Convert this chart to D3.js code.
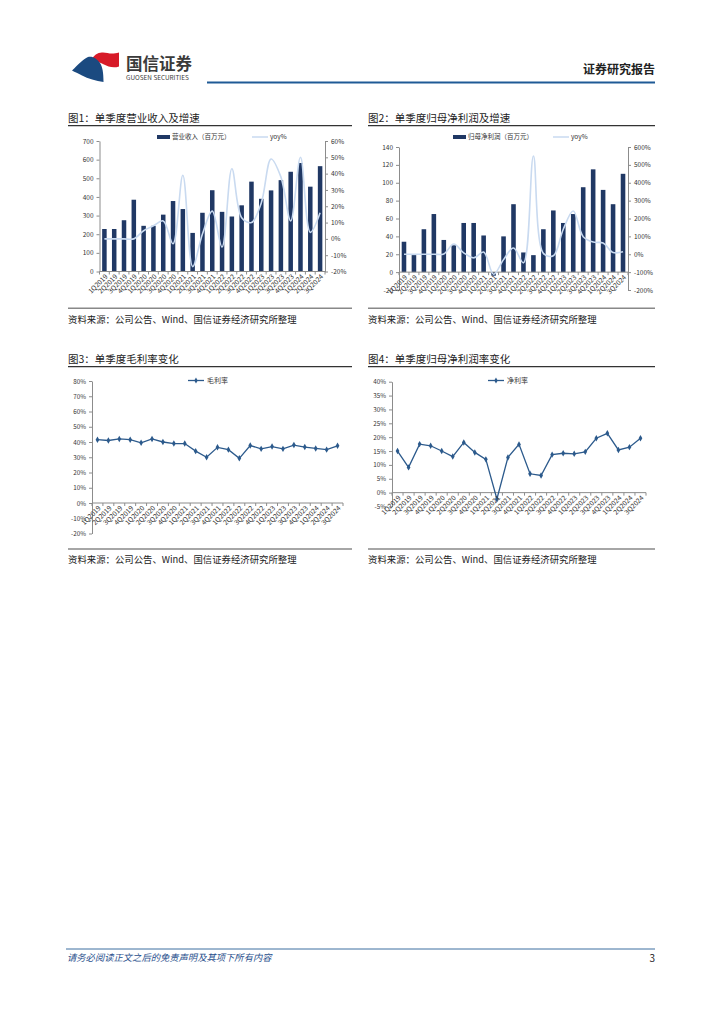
<!DOCTYPE html>
<html><head><meta charset="utf-8">
<script src="https://cdn.jsdelivr.net/npm/d3@7"></script>
<style>
body{margin:0;background:#fff}
svg{display:block}
text{font-family:"Noto Sans CJK SC","Liberation Sans",sans-serif}
</style>
</head><body>
<svg id="c" width="724" height="1024"></svg>
<script>
// ---------------- data ----------------
const quarters = ["1Q2019","2Q2019","3Q2019","4Q2019","1Q2020","2Q2020","3Q2020","4Q2020","1Q2021","2Q2021","3Q2021","4Q2021","1Q2022","2Q2022","3Q2022","4Q2022","1Q2023","2Q2023","3Q2023","4Q2023","1Q2024","2Q2024","3Q2024"];
const revenue = [228,228,275,385,245,245,305,378,335,207,315,436,320,295,355,482,390,435,490,535,582,455,565];
const revenueYoy = [0,0,0,0,5,8,11,-3,39,-17,3,17,-5,43,13,10,22,49,38,11,50,4,16];
const profit = [34,19,48,65,36,30,55,55,41,-4,40,76,22,19,48,69,55,65,95,115,92,76,110];
const profitYoy = [0,0,0,0,2,57,8,-20,12,-112,-30,35,-48,550,5,-8,140,242,98,68,63,10,14];
const grossMargin = [41.5,41,42,41.5,39.5,42,40,39,39,34,30,36.5,35,29.3,37.7,35.5,37,35.5,38,36.7,35.8,35,37.5];
const netMargin = [15,9.1,17.5,16.9,15,13,18.1,14.5,12,-2.3,12.7,17.4,6.8,6.2,13.7,14.2,14,14.7,19.6,21.4,15.4,16.4,19.6];

const revTicks = [0,100,200,300,400,500,600,700];
const revYoyTicks = [-20,-10,0,10,20,30,40,50,60];
const profitTicks = [-20,0,20,40,60,80,100,120,140];
const profitYoyTicks = [-200,-100,0,100,200,300,400,500,600];
const grossTicks = [-20,-10,0,10,20,30,40,50,60,70,80];
const netTicks = [-5,0,5,10,15,20,25,30,35,40];

const titles = ["图1：单季度营业收入及增速","图2：单季度归母净利润及增速","图3：单季度毛利率变化","图4：单季度归母净利润率变化"];
const sourceText = "资料来源：公司公告、Wind、国信证券经济研究所整理";

// ---------------- style ----------------
const NAVY = "#203864";
const LIGHT = "#c9daf0";
const LINEC = "#2c5a8c";
const AX = "#8c8c8c";
const TXT = "#333";

const svg = d3.select("#c");
svg.append("rect").attr("width",724).attr("height",1024).attr("fill","#fff");

// ---------------- header ----------------
const hdr = svg.append("g");
hdr.append("path").attr("d","M91,60 C94,55 98,52 103,52.5 C108,53 112,54.5 119,52.5 L119,66.5 C113,68.5 108,66.5 104,64.5 C100,62.5 95,61 91,60 Z").attr("fill","#d71a28");
hdr.append("path").attr("d","M72,70.5 C78,65 83,59 88,57 C93,56 97,59 100,63 C102.5,67 103.5,72 103.5,82 C96,81 88,78.5 82,75.5 C78,73.5 75,72 72,70.5 Z").attr("fill","#1b4a80");
hdr.append("text").attr("x",126).attr("y",70).attr("font-size",16.5).attr("font-weight","bold").attr("fill","#3a3a3a").text("国信证券");
hdr.append("text").attr("x",126).attr("y",80).attr("font-size",6.4).attr("fill","#3a3a3a").attr("font-family","Liberation Sans").text("GUOSEN SECURITIES");
hdr.append("text").attr("x",655).attr("y",74).attr("text-anchor","end").attr("font-size",12).attr("font-weight","bold").attr("fill","#222").text("证券研究报告");
hdr.append("line").attr("x1",207).attr("x2",655).attr("y1",82.5).attr("y2",82.5).attr("stroke","#1f5a96").attr("stroke-width",2);

// ---------------- footer ----------------
svg.append("line").attr("x1",66).attr("x2",655).attr("y1",949).attr("y2",949).attr("stroke","#3d6fa0").attr("stroke-width",1);
svg.append("text").attr("x",67).attr("y",961).attr("font-size",9.3).attr("font-style","italic").attr("fill","#1f4e8c").text("请务必阅读正文之后的免责声明及其项下所有内容");
svg.append("text").attr("x",655).attr("y",962).attr("text-anchor","end").attr("font-size",10).attr("fill","#222").text("3");

// ---------------- frames ----------------
function frame(x0, x1, yTitle, yUnder, title, ySrcLine, ySrcText) {
  svg.append("text").attr("x",x0).attr("y",yTitle).attr("font-size",10.5).attr("fill","#222").text(title);
  svg.append("line").attr("x1",x0).attr("x2",x1).attr("y1",yUnder).attr("y2",yUnder).attr("stroke","#333").attr("stroke-width",1.3);
  svg.append("line").attr("x1",x0).attr("x2",x1).attr("y1",ySrcLine).attr("y2",ySrcLine).attr("stroke","#888").attr("stroke-width",1.5);
  svg.append("text").attr("x",x0).attr("y",ySrcText).attr("font-size",9.4).attr("fill","#222").text(sourceText);
}
frame(68,352,121.5,125.7,titles[0],308.3,322.5);
frame(368,655,121.5,125.7,titles[1],308.3,322.5);
frame(68,352,362.5,366.7,titles[2],549,563);
frame(368,655,362.5,366.7,titles[3],549,563);

// ---------------- helpers ----------------
function styleAxis(g, fs) {
  g.select(".domain").attr("stroke",AX);
  g.selectAll(".tick line").attr("stroke",AX);
  g.selectAll(".tick text").attr("fill",TXT).attr("font-size",fs).attr("font-family","Liberation Sans");
}
function xLabels(x, y0, fs) {
  const g = svg.append("g");
  g.selectAll("text").data(quarters).join("text")
    .attr("transform", d => `translate(${x(d)+x.bandwidth()/2+2},${y0+4}) rotate(-45)`)
    .attr("text-anchor","end").attr("dy","0.35em")
    .attr("font-size",fs).attr("fill",TXT).attr("font-family","Liberation Sans")
    .text(d => d);
}
function xAxisLine(x, y0) {
  const r = x.range();
  svg.append("line").attr("x1",r[0]).attr("x2",r[1]).attr("y1",y0).attr("y2",y0).attr("stroke",AX);
  const edges = quarters.map(q => x(q)).concat([r[1]]);
  svg.append("g").selectAll("line").data(edges).join("line")
    .attr("x1",d=>d).attr("x2",d=>d).attr("y1",y0).attr("y2",y0+3).attr("stroke",AX);
}
function barLegend(xs, y, label, lx, label2) {
  svg.append("rect").attr("x",xs).attr("y",y-2).attr("width",13).attr("height",4).attr("fill",NAVY);
  svg.append("text").attr("x",xs+15).attr("y",y+2.3).attr("font-size",6.5).attr("fill",TXT).text(label);
  svg.append("line").attr("x1",lx).attr("x2",lx+16).attr("y1",y).attr("y2",y).attr("stroke",LIGHT).attr("stroke-width",1.5);
  svg.append("text").attr("x",lx+18).attr("y",y+2.3).attr("font-size",6.5).attr("fill",TXT).text(label2);
}
function lineLegend(xs, y, label) {
  svg.append("line").attr("x1",xs).attr("x2",xs+16).attr("y1",y).attr("y2",y).attr("stroke",LINEC).attr("stroke-width",1.3);
  svg.append("path").attr("d",d3.symbol(d3.symbolDiamond,10)()).attr("transform",`translate(${xs+8},${y})`).attr("fill",LINEC);
  svg.append("text").attr("x",xs+19).attr("y",y+2.5).attr("font-size",7).attr("fill",TXT).text(label);
}

// ---------------- bar + yoy combo ----------------
function combo(opts) {
  const {xr, yr, ldom, rdom, lticks, rticks, vals, yoy, lfmt} = opts;
  const x = d3.scaleBand().domain(quarters).range(xr);
  const yl = d3.scaleLinear().domain(ldom).range(yr);
  const yrS = d3.scaleLinear().domain(rdom).range(yr);
  const bw = x.bandwidth()*0.46;
  const cx = q => x(q) + x.bandwidth()/2;
  svg.append("g").selectAll("rect").data(vals).join("rect")
    .attr("x",(d,i)=>cx(quarters[i])-bw/2)
    .attr("y",d=>Math.min(yl(d),yl(0)))
    .attr("width",bw)
    .attr("height",d=>Math.abs(yl(d)-yl(0)))
    .attr("fill",NAVY);
  xAxisLine(x, yl(0));
  const gl = svg.append("g").attr("transform",`translate(${xr[0]},0)`)
    .call(d3.axisLeft(yl).tickValues(lticks).tickSize(3).tickSizeOuter(0).tickPadding(3).tickFormat(lfmt||(d=>d)));
  styleAxis(gl, 6.5);
  const gr = svg.append("g").attr("transform",`translate(${xr[1]},0)`)
    .call(d3.axisRight(yrS).tickValues(rticks).tickSize(3).tickSizeOuter(0).tickPadding(3).tickFormat(d=>d+"%"));
  styleAxis(gr, 6.5);
  const line = d3.line().x((d,i)=>cx(quarters[i])).y(d=>yrS(d)).curve(d3.curveCatmullRom.alpha(0.5));
  svg.append("path").datum(yoy).attr("d",line).attr("fill","none").attr("stroke",LIGHT).attr("stroke-width",1.6);
  xLabels(x, yl(0), 6.8);
}

combo({xr:[99.5,325], yr:[271.5,141], ldom:[0,700], rdom:[-20,60], lticks:revTicks, rticks:revYoyTicks, vals:revenue, yoy:revenueYoy});
barLegend(157,137,"营业收入（百万元）",252,"yoy%");
combo({xr:[399,628], yr:[290,147], ldom:[-20,140], rdom:[-200,600], lticks:profitTicks, rticks:profitYoyTicks, vals:profit, yoy:profitYoy});
barLegend(453,137,"归母净利润（百万元）",553,"yoy%");

// ---------------- margin line charts ----------------
function marginChart(opts) {
  const {xr, yr, dom, ticks, vals} = opts;
  const x = d3.scaleBand().domain(quarters).range(xr);
  const y = d3.scaleLinear().domain(dom).range(yr);
  const cx = q => x(q) + x.bandwidth()/2;
  const gl = svg.append("g").attr("transform",`translate(${xr[0]},0)`)
    .call(d3.axisLeft(y).tickValues(ticks).tickSize(3).tickSizeOuter(0).tickPadding(3).tickFormat(d=>d+"%"));
  styleAxis(gl, 6.3);
  xAxisLine(x, y(0));
  const line = d3.line().x((d,i)=>cx(quarters[i])).y(d=>y(d));
  svg.append("path").datum(vals).attr("d",line).attr("fill","none").attr("stroke",LINEC).attr("stroke-width",1.3);
  svg.append("g").selectAll("path").data(vals).join("path")
    .attr("d",d3.symbol(d3.symbolDiamond,12)())
    .attr("transform",(d,i)=>`translate(${cx(quarters[i])},${y(d)})`)
    .attr("fill",LINEC);
  xLabels(x, y(0), 6.8);
}
marginChart({xr:[92,343], yr:[533.5,381], dom:[-20,80], ticks:grossTicks, vals:grossMargin});
lineLegend(188,380.5,"毛利率");
marginChart({xr:[392,646], yr:[506.5,381.7], dom:[-5,40], ticks:netTicks, vals:netMargin});
lineLegend(488,380.5,"净利率");
</script>
</body></html>
